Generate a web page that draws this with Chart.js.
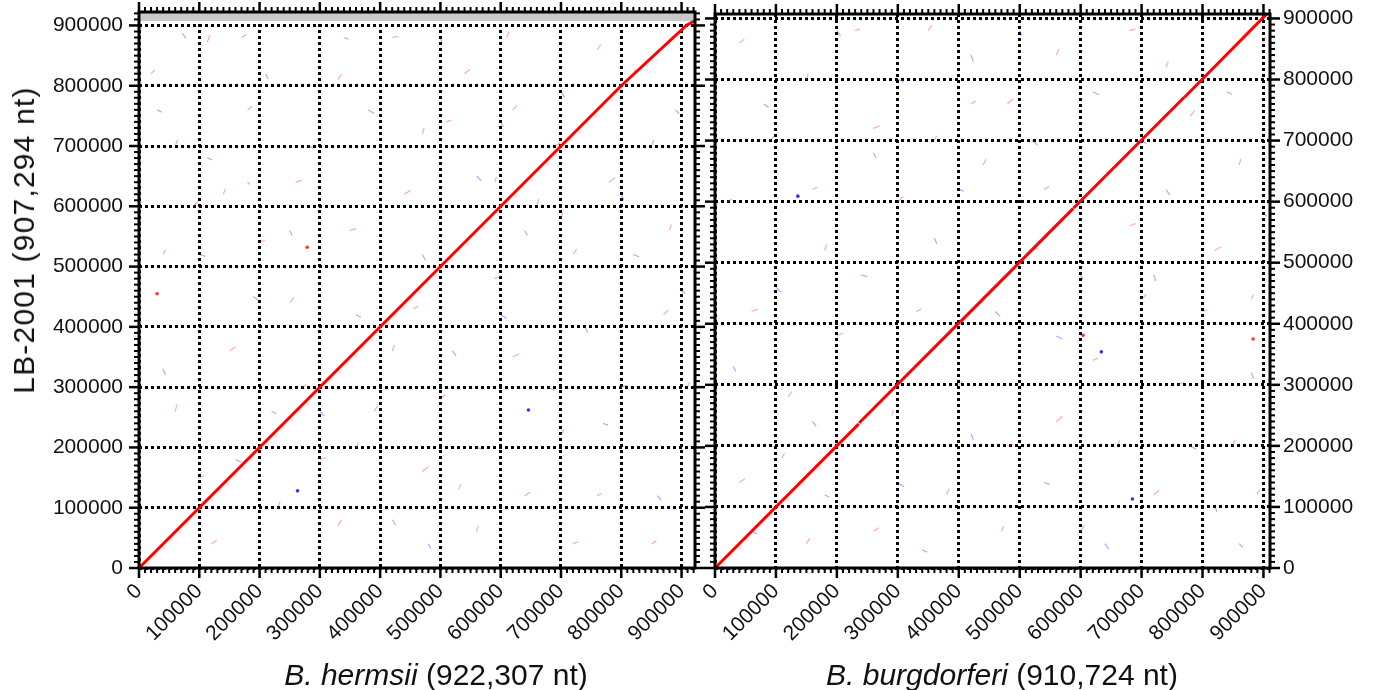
<!DOCTYPE html>
<html>
<head>
<meta charset="utf-8">
<script src="https://cdn.jsdelivr.net/npm/chart.js@4.4.0/dist/chart.umd.min.js"></script>
<style>
  body { margin: 0; background: #fff; width: 1375px; height: 690px; position: relative; overflow: hidden;
         font-family: "Liberation Sans", Arial, sans-serif; color: #111; }
  canvas { position: absolute; top: 0; }
  #c1 { left: 0; }
  #c2 { left: 700px; }
  .title { position: absolute; font-size: 30px; line-height: 30px; white-space: nowrap; }
</style>
</head>
<body>
<canvas id="c1" width="710" height="690"></canvas>
<canvas id="c2" width="675" height="690"></canvas>
<div class="title" style="left:24px;top:240px;letter-spacing:1.2px;transform:translate(-50%,-50%) rotate(-90deg)">LB-2001 (907,294 nt)</div>
<div class="title" style="left:436px;top:660px;transform:translateX(-50%)"><i>B. hermsii</i> (922,307 nt)</div>
<div class="title" style="left:1002px;top:660px;transform:translateX(-50%)"><i>B. burgdorferi</i> (910,724 nt)</div>
<script>
// genome lengths (nt)
const hermsiiLength = 922307;
const burgdorferiLength = 910724;
const lb2001Length = 907294;

const tickValues = [0, 100000, 200000, 300000, 400000, 500000, 600000, 700000, 800000, 900000];
const minorStep = 10000;

// main syntenic diagonal (nt)
const leftDiagonal = [[0, 0], [800000, 800000], [908000, 900000], [921000, 907294]];
const rightDiagonal = [
  [0, 0, 236000, 236000],
  [236500, 237500, 402000, 403000],
  [402500, 403000, 588000, 589000],
  [588500, 589500, 770000, 771000],
  [770500, 771000, 905000, 907000]
];

// short background hits, in thousands of nt: [x, y, dx, dy]
const leftRedHits = [
  [113,872,5,12],[180,760,8,6],[60,700,4,10],[260,640,10,3],[330,810,6,9],[420,880,10,2],[470,720,3,10],
  [540,820,9,7],[620,760,7,8],[660,600,3,12],[590,480,10,4],[720,520,6,9],[780,640,10,8],[850,700,4,10],
  [870,420,8,8],[800,300,10,3],[700,220,5,10],[640,120,9,6],[560,60,3,10],[470,160,10,8],[390,260,6,9],
  [300,180,10,3],[230,100,4,10],[120,40,9,6],[60,260,3,11],[150,360,10,7],[250,440,7,9],[350,560,10,3],
  [420,360,4,10],[500,280,8,8],[620,350,10,5],[760,860,6,8],[880,560,3,10],[200,540,9,4],[90,600,8,8],
  [440,620,10,6],[330,70,6,10],[720,40,9,4],[20,820,6,6],[140,620,3,9],[270,300,8,4],[360,200,4,8],
  [510,740,8,3],[590,640,3,9],[690,700,9,6],[820,820,4,8],[910,300,3,8],[760,120,8,4],[530,130,4,9],
  [100,150,8,3],[40,520,4,8],[170,880,8,5],[610,880,4,9],[455,430,8,4],[700,580,3,9],[850,40,8,5]
];
const leftBlueHits = [
  [72,887,6,-8],[113,681,8,-4],[210,820,4,-9],[280,700,9,-3],[380,760,10,-6],[500,880,3,-10],[560,650,8,-8],
  [700,790,6,-9],[820,520,10,-4],[740,400,4,-10],[680,300,9,-6],[560,200,10,-3],[420,80,6,-9],[300,260,8,-8],
  [160,180,10,-5],[40,330,4,-10],[190,450,9,-7],[360,420,8,-4],[470,520,5,-9],[600,420,10,-6],[860,120,6,-8],
  [800,620,4,-10],[100,520,10,-3],[520,360,6,-8],[180,640,4,-4],[30,760,8,-4],[250,560,4,-8],[340,880,8,-3],
  [640,560,4,-8],[890,760,6,-6],[770,240,8,-3],[480,40,4,-8],[220,260,8,-4],[600,740,4,-8],[900,460,6,-5]
];
const rightRedHits = [
  [40,860,8,6],[150,800,3,10],[260,720,10,4],[350,880,6,9],[480,760,9,8],[560,840,4,10],[680,880,10,3],
  [780,740,7,9],[860,660,3,10],[820,520,10,6],[700,440,8,8],[760,300,10,4],[850,200,3,10],[720,120,9,7],
  [600,60,6,10],[480,200,10,3],[380,120,4,10],[260,60,9,6],[120,280,6,9],[60,420,10,4],[180,520,3,10],
  [300,600,9,8],[400,300,7,6],[520,520,10,3],[640,640,4,10],[90,700,8,8],[200,380,10,5],[440,660,5,10],
  [330,420,8,4],[560,240,10,8],[880,440,4,8],[40,140,9,6],[680,560,10,4],[150,40,6,9],[900,860,3,10],
  [20,600,8,4],[110,180,4,8],[230,880,8,3],[290,250,3,9],[420,760,8,5],[470,60,4,8],[620,340,8,4],
  [740,820,4,9],[800,420,8,3],[890,120,3,8],[540,620,8,5],[360,700,4,8],[160,620,8,4],[660,200,4,9]
];
const rightBlueHits = [
  [80,760,8,-6],[200,880,6,-9],[300,800,10,-3],[420,840,4,-10],[520,700,9,-7],[620,780,10,-5],[740,620,6,-9],
  [840,780,8,-4],[880,320,4,-10],[780,200,10,-6],[640,40,6,-9],[540,140,9,-3],[420,220,4,-10],[300,140,10,-7],
  [160,240,6,-8],[60,60,9,-4],[240,480,10,-3],[360,540,4,-9],[460,420,8,-8],[560,380,10,-5],[720,480,3,-10],
  [100,460,8,-8],[860,40,6,-6],[30,330,4,-8],[180,120,8,-4],[260,680,4,-8],[400,620,8,-3],[500,880,4,-8],
  [700,700,8,-5],[820,100,4,-8],[900,580,6,-4],[600,480,4,-8],[340,30,8,-4]
];

// stronger isolated spots (nt)
const leftRedSpots = [[30000, 455000], [279000, 532000]];
const leftBlueSpots = [[263000, 128000], [646000, 262000]];
const rightRedSpots = [[604000, 381000], [883000, 375000]];
const rightBlueSpots = [[634000, 354000], [136000, 609000], [685000, 113000]];

function hitsToData(hits) {
  const out = [];
  hits.forEach(h => {
    out.push({x: h[0] * 1000, y: h[1] * 1000});
    out.push({x: (h[0] + h[2]) * 1000, y: (h[1] + h[3]) * 1000});
    out.push({x: null, y: null});
  });
  return out;
}
function segsToData(segs) {
  const out = [];
  segs.forEach(s => {
    out.push({x: s[0], y: s[1]});
    out.push({x: s[2], y: s[3]});
    out.push({x: null, y: null});
  });
  return out;
}
const pts = arr => arr.map(p => ({x: p[0], y: p[1]}));

// frame, tick marks and the grey band above the query length
const framePlugin = {
  id: 'frame',
  beforeDatasetsDraw(chart, args, opts) {
    if (!opts.band) return;
    const {ctx, chartArea: a, scales: {y}} = chart;
    const top = y.getPixelForValue(opts.band[1]);
    const bot = y.getPixelForValue(opts.band[0]);
    ctx.save();
    ctx.fillStyle = '#c9c9c9';
    ctx.fillRect(a.left, top, a.right - a.left, bot - top);
    ctx.restore();
  },
  afterDraw(chart) {
    const {ctx, chartArea: a, scales: {x, y}} = chart;
    ctx.save();
    ctx.strokeStyle = '#000';
    const seg = (x1, y1, x2, y2) => { ctx.beginPath(); ctx.moveTo(x1, y1); ctx.lineTo(x2, y2); ctx.stroke(); };
    for (let v = 0; v <= x.max; v += minorStep) {
      const p = x.getPixelForValue(v);
      const major = tickValues.includes(v);
      const len = major ? 10 : 5;
      ctx.lineWidth = major ? 2.5 : 2;
      seg(p, a.bottom, p, a.bottom + len);
      seg(p, a.top, p, a.top - len);
    }
    for (let v = 0; v <= y.max; v += minorStep) {
      const p = y.getPixelForValue(v);
      const major = tickValues.includes(v);
      const len = major ? 10 : 5;
      ctx.lineWidth = major ? 2.5 : 2;
      seg(a.left, p, a.left - len, p);
      seg(a.right, p, a.right + len, p);
    }
    ctx.lineWidth = 3;
    ctx.strokeRect(a.left, a.top, a.right - a.left, a.bottom - a.top);
    ctx.restore();
  }
};

const tickFont = {family: '"Liberation Sans", Arial, sans-serif', size: 21};
const noPad = s => { s.paddingTop = 0; s.paddingBottom = 0; s.paddingLeft = 0; s.paddingRight = 0; };

function makeChart(id, cfg) {
  return new Chart(document.getElementById(id), {
    type: 'scatter',
    data: {
      datasets: [
        {data: hitsToData(cfg.red), showLine: true, borderColor: 'rgba(255,70,70,0.45)', borderWidth: 1.2, pointRadius: 0},
        {data: hitsToData(cfg.blue), showLine: true, borderColor: 'rgba(70,70,255,0.45)', borderWidth: 1.2, pointRadius: 0},
        {data: pts(cfg.redSpots), backgroundColor: 'rgba(255,0,0,0.8)', borderWidth: 0, pointRadius: 1.8},
        {data: pts(cfg.blueSpots), backgroundColor: 'rgba(0,0,255,0.8)', borderWidth: 0, pointRadius: 1.8},
        {data: cfg.diag, showLine: true, borderColor: '#ff0000', borderWidth: 3, pointRadius: 0}
      ]
    },
    options: {
      responsive: false,
      animation: false,
      devicePixelRatio: 1,
      events: [],
      layout: {padding: cfg.padding},
      plugins: {legend: {display: false}, tooltip: {enabled: false}, frame: {band: cfg.band}},
      scales: {
        x: {
          type: 'linear', min: 0, max: cfg.xMax,
          afterBuildTicks: s => { s.ticks = tickValues.map(v => ({value: v})); },
          afterFit: s => { s.height = 122; noPad(s); },
          grid: {color: '#000', lineWidth: 3, drawTicks: false},
          border: {display: false, dash: [3, 3]},
          ticks: {color: '#111', font: tickFont, minRotation: 45, maxRotation: 45, padding: 11, callback: v => String(v)}
        },
        y: {
          type: 'linear', min: 0, max: cfg.yMax, position: cfg.yPos,
          afterBuildTicks: s => { s.ticks = tickValues.map(v => ({value: v})); },
          afterFit: s => { s.width = cfg.yWidth; noPad(s); },
          grid: {color: '#000', lineWidth: 3, drawTicks: false},
          border: {display: false, dash: [3, 3]},
          ticks: {color: '#111', font: tickFont, padding: cfg.yPad, callback: v => String(v)}
        }
      }
    },
    plugins: [framePlugin]
  });
}

makeChart('c1', {
  xMax: hermsiiLength, yMax: hermsiiLength, band: [lb2001Length, hermsiiLength],
  yPos: 'left', yWidth: 139, yPad: 16, padding: {top: 12, right: 15, left: 0, bottom: 0},
  red: leftRedHits, blue: leftBlueHits, redSpots: leftRedSpots, blueSpots: leftBlueSpots,
  diag: pts(leftDiagonal)
});
makeChart('c2', {
  xMax: burgdorferiLength, yMax: lb2001Length, band: null,
  yPos: 'right', yWidth: 105, yPad: 13, padding: {top: 14, right: 0, left: 15, bottom: 0},
  red: rightRedHits, blue: rightBlueHits, redSpots: rightRedSpots, blueSpots: rightBlueSpots,
  diag: segsToData(rightDiagonal)
});
</script>
</body>
</html>
